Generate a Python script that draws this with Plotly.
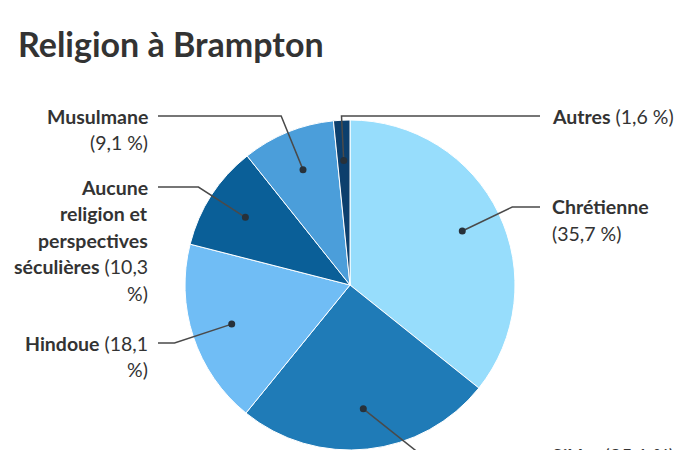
import math
import plotly.graph_objects as go

# ---- data ----
religions = ["Chrétienne", "Sikhe", "Hindoue", "Aucune religion et perspectives séculières", "Musulmane", "Autres"]
shares = [35.7, 25.1, 18.1, 10.3, 9.1, 1.6]
share_text = ["35,7 %", "25,1 %", "18,1 %", "10,3 %", "9,1 %", "1,6 %"]
colors = ["#97DDFC", "#1F7BB7", "#70BDF5", "#0A5F98", "#4B9EDA", "#0C3F6D"]

# label lines (html) per slice
label_lines = [
    ["<b>Chrétienne</b>", "(35,7 %)"],
    ["<b>Sikhe</b> (25,1 %)"],
    ["<b>Hindoue</b> (18,1", "%)"],
    ["<b>Aucune</b>", "<b>religion et</b>", "<b>perspectives</b>", "<b>séculières</b> (10,3", "%)"],
    ["<b>Musulmane</b>", "(9,1 %)"],
    ["<b>Autres</b> (1,6 %)"],
]

# ---- layout constants (pixels) ----
W, H = 700, 450
CX, CY, R = 350, 285, 165
DOT_FRAC = 0.755
LINE_STEP = 26.5
label_side = ["right", "right", "left", "left", "left", "right"]
label_y0 = [207, 455, 343, 187, 116, 116]
leader_dir_override = {1: 128.5}
LEFT_END, LEFT_TEXT = 158, 150
RIGHT_END, RIGHT_TEXT = 540, 550


def px(x):
    return x / W


def py(y):
    return 1 - y / H


fig = go.Figure()
fig.add_trace(go.Pie(
    labels=religions, values=shares, sort=False, direction="clockwise", rotation=0,
    marker=dict(colors=colors, line=dict(color="white", width=1)),
    textinfo="none", customdata=share_text, hovertemplate="%{label}: %{customdata}<extra></extra>",
    domain=dict(x=[px(CX - R), px(CX + R)], y=[py(CY + R), py(CY - R)]),
    showlegend=False,
))

shapes = []
annotations = []
total = sum(shares)
cum = 0.0
for i, v in enumerate(shares):
    mid = (cum + v / 2) / total * 2 * math.pi
    cum += v
    dx, dy = math.sin(mid), -math.cos(mid)
    dotx, doty = CX + DOT_FRAC * R * dx, CY + DOT_FRAC * R * dy
    ly = label_y0[i]
    if i in leader_dir_override:
        a = math.radians(leader_dir_override[i])
        ddx, ddy = math.sin(a), -math.cos(a)
    else:
        ddx, ddy = dx, dy
    t = (ly - doty) / ddy
    ex, ey = dotx + t * ddx, ly
    endx = LEFT_END if label_side[i] == "left" else RIGHT_END
    shapes.append(dict(
        type="path", xref="paper", yref="paper", layer="above",
        path=f"M {px(dotx)} {py(doty)} L {px(ex)} {py(ey)} L {px(endx)} {py(ey)}",
        line=dict(color="#4a4a4a", width=1.5),
    ))
    rr = 3.5
    shapes.append(dict(
        type="circle", xref="paper", yref="paper", layer="above",
        x0=px(dotx - rr), x1=px(dotx + rr), y0=py(doty + rr), y1=py(doty - rr),
        fillcolor="#27313a", line=dict(width=0),
    ))
    for k, txt in enumerate(label_lines[i]):
        if label_side[i] == "left":
            ax, anchor = LEFT_TEXT, "right"
        else:
            ax, anchor = RIGHT_TEXT, "left"
        annotations.append(dict(
            x=px(ax), y=py(ly + k * LINE_STEP), xref="paper", yref="paper",
            xanchor=anchor, yanchor="middle", showarrow=False, text=txt,
            align=anchor, font=dict(family="Lato", size=19.5, color="#333333"),
        ))

fig.update_layout(
    width=W, height=H,
    margin=dict(l=0, r=0, t=0, b=0),
    paper_bgcolor="white", plot_bgcolor="white",
    title=dict(text="<b>Religion à Brampton</b>", x=px(18), xanchor="left", xref="paper",
               y=py(45), yref="container", yanchor="middle",
               font=dict(family="Lato", size=34, color="#333333")),
    shapes=shapes, annotations=annotations,
)

fig.write_html("out.html", config={"displayModeBar": False},
               post_script="document.body.style.margin='0';")
